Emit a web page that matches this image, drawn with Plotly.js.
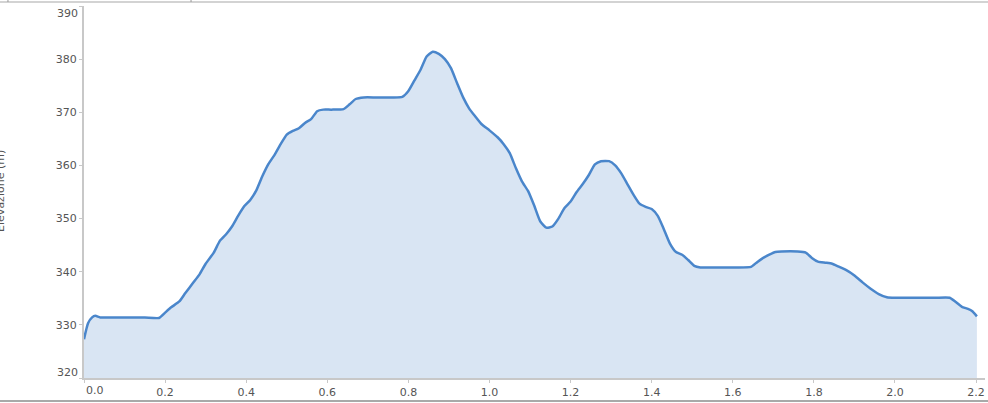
<!DOCTYPE html>
<html>
<head>
<meta charset="utf-8">
<script src="https://cdn.plot.ly/plotly-3.0.1.min.js"></script>
<style>html,body{margin:0;padding:0;background:#fff;}#chart{width:988px;height:403px;}</style>
</head>
<body>
<div id="chart"></div>
<script>
// Distance (km) and elevation (m)
const distance = [0.000,0.010,0.020,0.028,0.040,0.100,0.150,0.185,0.200,0.215,0.235,0.250,0.270,0.285,0.300,0.320,0.335,0.350,0.365,0.380,0.395,0.410,0.425,0.440,0.455,0.470,0.485,0.500,0.515,0.530,0.545,0.560,0.575,0.590,0.610,0.640,0.655,0.670,0.690,0.720,0.760,0.785,0.800,0.815,0.830,0.845,0.860,0.875,0.890,0.905,0.920,0.935,0.950,0.965,0.980,1.000,1.020,1.035,1.050,1.065,1.080,1.095,1.110,1.125,1.140,1.155,1.170,1.185,1.200,1.215,1.230,1.245,1.260,1.275,1.295,1.310,1.325,1.340,1.355,1.370,1.385,1.400,1.415,1.430,1.445,1.460,1.475,1.490,1.505,1.520,1.560,1.600,1.645,1.660,1.675,1.690,1.705,1.720,1.760,1.780,1.795,1.810,1.830,1.845,1.860,1.880,1.900,1.920,1.940,1.960,1.980,2.000,2.050,2.100,2.135,2.150,2.165,2.180,2.190,2.202];
const elevation = [327.3,330.3,331.4,331.7,331.4,331.4,331.4,331.3,332.3,333.3,334.4,336.0,338.0,339.5,341.5,343.6,345.8,347.0,348.5,350.5,352.3,353.5,355.3,358.0,360.3,362.0,364.0,365.8,366.5,367.0,368.0,368.7,370.2,370.5,370.5,370.6,371.5,372.5,372.8,372.8,372.8,372.9,374.0,376.0,378.0,380.5,381.4,381.0,380.0,378.3,375.5,372.8,370.7,369.2,367.8,366.6,365.3,364.0,362.3,359.5,357.0,355.2,352.5,349.5,348.3,348.5,350.0,352.0,353.2,355.0,356.5,358.2,360.2,360.8,360.8,360.0,358.5,356.5,354.5,352.8,352.2,351.8,350.5,348.0,345.3,343.7,343.2,342.2,341.1,340.8,340.8,340.8,340.9,341.8,342.6,343.2,343.7,343.8,343.8,343.6,342.6,341.9,341.7,341.5,341.0,340.3,339.3,338.0,336.8,335.8,335.2,335.1,335.1,335.1,335.1,334.3,333.4,333.0,332.6,331.6];

const xTickVals = [0,0.2,0.4,0.6,0.8,1.0,1.2,1.4,1.6,1.8,2.0,2.2];
const xTickText = ["","0.2","0.4","0.6","0.8","1.0","1.2","1.4","1.6","1.8","2.0","2.2"];
const yTickVals = [320,330,340,350,360,370,380,390];
const yTickText = ["","330","340","350","360","370","380",""];
const yTitle = "Elevazione (m)";

const tickFont = {family: "DejaVu Sans, Verdana, sans-serif", size: 11, color: "#555"};

const trace = {
  x: distance, y: elevation, type: "scatter", mode: "lines",
  line: {color: "#4a86cb", width: 2.5, shape: "spline", smoothing: 0.5},
  fill: "tozeroy", fillcolor: "#d9e5f3", hoverinfo: "x+y"
};

const layout = {
  width: 988, height: 403,
  margin: {l: 84, r: 3, t: 6, b: 25, pad: 0},
  paper_bgcolor: "#fff", plot_bgcolor: "#fff",
  showlegend: false,
  xaxis: {
    range: [0, 2.222], showgrid: false, zeroline: false,
    showline: true, linecolor: "#c8c8c8", linewidth: 2,
    ticks: "outside", ticklen: 3, tickcolor: "#c8c8c8",
    tickvals: xTickVals, ticktext: xTickText, tickfont: tickFont
  },
  yaxis: {
    range: [320, 390], showgrid: false, zeroline: false,
    showline: true, linecolor: "#c8c8c8", linewidth: 2,
    ticks: "outside", ticklen: 3, tickcolor: "#c8c8c8",
    tickvals: yTickVals, ticktext: yTickText, tickfont: tickFont
  },
  annotations: [
    {xref: "x", yref: "paper", x: 0, y: 0, yanchor: "top", yshift: -4, xshift: 11, text: "0.0", showarrow: false, font: tickFont},
    {xref: "paper", yref: "y", x: 0, y: 320, xanchor: "right", xshift: -4, yshift: 6, text: "320", showarrow: false, font: tickFont},
    {xref: "paper", yref: "y", x: 0, y: 390, xanchor: "right", xshift: -4, yshift: -7, text: "390", showarrow: false, font: tickFont},
    {xref: "paper", yref: "paper", x: -0.0921, y: 0.503, xanchor: "center", yanchor: "middle", textangle: -90, text: yTitle, showarrow: false, font: tickFont}
  ],
  shapes: [
    {type: "line", xref: "paper", yref: "paper", x0: -0.0933, x1: 1.0034, y0: 1.0108, y1: 1.0108, line: {color: "#c4c4c4", width: 1.5}},
    {type: "line", xref: "paper", yref: "paper", x0: -0.0844, x1: -0.0844, y0: 1.0165, y1: 1.0108, line: {color: "#999", width: 1}},
    {type: "line", xref: "paper", yref: "paper", x0: 0.1188, x1: 0.1188, y0: 1.0165, y1: 1.0108, line: {color: "#999", width: 1}},
    {type: "line", xref: "paper", yref: "paper", x0: -0.0933, x1: 1.0034, y0: -0.0618, y1: -0.0618, line: {color: "#8c8c8c", width: 1.5}}
  ]
};

Plotly.newPlot("chart", [trace], layout, {displayModeBar: false, staticPlot: true});
</script>
</body>
</html>
